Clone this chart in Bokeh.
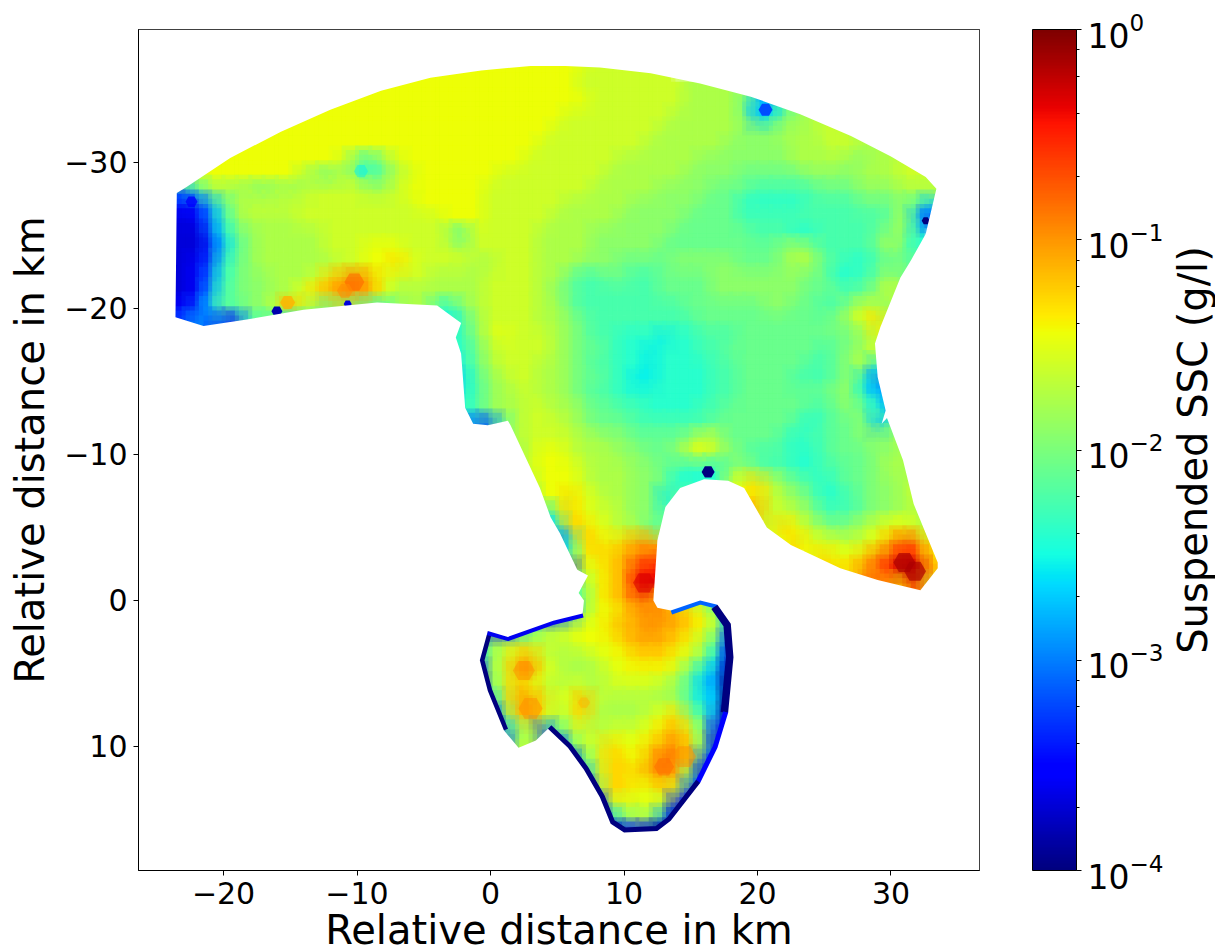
import numpy as np
from bokeh.plotting import figure
from bokeh.layouts import row
from bokeh.models import (ColorBar, ColumnDataSource, FixedTicker, LogColorMapper,
                          LogTicker, Range1d)
from bokeh.embed import file_html
from bokeh.resources import INLINE

X_TICKS = [-20, -10, 0, 10, 20, 30]
Y_TICKS = [-30, -20, -10, 0, 10]
XLABEL = "Relative distance in km"
CLABEL = "Suspended SSC (g/l)"

# Levels: A = 10^-4 ... Z = 10^0, 25 equal log steps.
LEVELS = "ABCDEFGHIJKLMNOPQRSTUVWXYZ"

# (first column km, first row = y value) cells, 1 km apart
ROW_Y = list(range(-37, 17))
ROW_X0 = [0, -6, -10, -13, -16, -18, -21, -22, -24, -24, -24, -24, -24, -24, -24, -24, -24, -24,
          -24, -4, -4, -3, -3, -3, -3, -3, 1, 2, 2, 3, 3, 4, 4, 5, 6, 6, 6, 6, 4, -1, -1, -1, -1, -1,
          0, 0, 0, 1, 6, 7, 7, 8, 8, 9]
ROW_CELLS = [
 "QQQQQQQQPP",
 "QQQQQQQQQQQQQPPPPPPP",
 "QQQQQQQQQQQQQQQQQPPPPPPPPOOOOO",
 "QQQQQQQQQQQQQQQQQQQQQPPPPPPPOOOOMIHLO",
 "QQQQQQQQQQQQQQQQQQQQQQPPPPPPPPOOOOONIJMNOO",
 "QQQQQQQQQQQQQQQQQQQQQQQPPPPPPPPOOOOOONNNOOOPPOO",
 "QQQQQQQQQQQQQQQQQQQQQQQQQPPPPPPPPOOOOOONNNNNOOOPPOOO",
 "QQQQQQQQQQQPMKNPQQQQQQQQQPPPPPPPOOOOOONNNNNNNOOOONNOOPP",
 "PPPQQQQQQQONMONLMOPQQQQQQPPPPPPPPOOOOOONNNNMMMMMNNNNOOOPPP",
 "HHKNONNMNNOPPPPOOPQQQQQQPPPPPPPPOOOOONNNNMMMLLLLLMMMNNNOOO",
 "EDEHLOPPPPPPPPPPPPPQQQQQPPPPPPOOOOONNNNNMMMKKKKKLLLLMMMNLI",
 "DCDGKNOOOOPPPPPPPPPPPQQQPPPPPOOOOONNNNNMMMMLLLLLLLLLLLMOIE",
 "CCCFJMNOOOOOPPPPPPPPPNLPPPPPOOOONNNNNNMMMMMMLLLKKLLLLMNNK",
 "CCCEILNOOOOOPPPQQQPPPPOPPPPPOOOONNNNNMMMMMMMMMNONLLLLMOMK",
 "CCDFKMNOOOOOOPPQQRQPPPPOOPPPOOONNNMMMMNNNNNMMMNOOMLKKLMMMK",
 "CCDGKMNNOOOPRSTSQPPPOOOOPPPPOOMLLMMLLMMMMNNNNNNNMMKKLMOM",
 "CCDHLMNNOOQRSTTSQOOOOOOOPPPPONMLLLLLLMMMMNNNNNNNMMMLMNPO",
 "DDFIMLNNPSPNMOMMKNOOLKNOPPPPOOMLLLLLLLLMMMMMMNNMMLLNPON",
 "FFHFFDKMKKK..........JLNPPPPOONMLLLLLLLLMMMMMMMMMMNOQRP",
 "LKLNPQPPPONMLLKKKJKKLLLMMMMMMMMMNPQO",
 "JKKMOPPPPONMMLKKJKKKLLMMMMMMMLMNOP",
 "IKMOPPPOONMLLKKJKKKKLLMMMMMLLMNOJ",
 "HJLNOPPOONMMLKJJKKKKLLMMMMLLLMNJG",
 "IKLNOOPOONMLLKKKKKKKLLMMMMMMMNNKI",
 "JKLNOOPPOONMMLLKKKKLLMMMMMMLLMNMKH",
 "IGGFLOPPPONMMMLLLLLLMMMMMMLKLMMNIM",
 "NOPPPPOONNMMMMNPOMMMMLKLLMMNNNO",
 "NPQQPOOONNMMNPQONMLLLKKLMMMNNO",
 "OPQQQPOOONNMLKKKMNMLLKKLLMMNOO",
 "OQQQPOOONNMKKKKPQRPNMLKLMMNNO",
 "MQQRQPOONNJM....QRPONMKKLMNNOP",
 "JORQPPONNL.....SSPPONLLLMNNOO",
 "IJRRQPOOMM.......PRQONMNOPQQPN",
 "FJRRQRSS.........QRQPPOPQSUTQ",
 "LQRRSTU...........QRQQRTUWVR",
 "CPQRSVW.............RRTUWYXS",
 "MNQRSWX................TSRVP",
 "LMQRSUTSRPNL",
 "DEHNQQRSTTSRQNJ",
 "CCDHKNOPQQRSSTSSRQOH",
 "LNOPPPPPQQQRSSSRQOLE",
 "INPRSPOOOPQQRRRQPNJC",
 "DNPSTQPOOOPQQQQPMJHB",
 "BMPRQPOPPOPPPPONLIHA",
 "IOSTRPQSPOOOOOOLJIA",
 "CLRSQOPROOOOPQRNLGA",
 "AHMOFLOPOPPPQRSQMD",
 "EOP.DLPPRQQRSTRMC",
 "BLPRRQSUTQF",
 "HORRRSTSMC",
 "CMRRQQRPF",
 "DOQPQOD",
 "BIMONHB",
 "ADECA",
]

# Small features: km position and level
SPOT_X = [16.3, -16.0, -10.7, -13.5, 32.6, 20.6, -15.2, -10.2, -10.9, 2.5, 3.0, 7.0, 14.5, 13.0, 11.5, 31.0, 31.8, -9.7, -22.4]
SPOT_Y = [-8.8, -19.8, -20.3, -19.6, -26.0, -33.6, -20.4, -21.8, -21.2, 4.8, 7.4, 7.0, 10.7, 11.4, -1.2, -2.6, -2.0, -29.4, -27.3]
SPOT_LEVEL = list("ABCDAFSUTTTSTUXYYJD")
SPOT_SIZE = [13, 11, 8, 9, 8, 14, 15, 20, 16, 22, 24, 12, 24, 20, 22, 22, 22, 14, 12]
SPOT_ALPHA = [1, 1, 1, 1, 1, 1, .8, .6, .6, .5, .5, .5, .5, .5, .6, .7, .7, .5, .8]

# Coast outline in km
COAST_X = [-23.5,-22.8,-19.5,-15.7,-12.0,-8.2,-4.5,-0.7,3.0,5.6,8.2,12.0,15.7,19.5,23.2,27.0,30.0,32.6,33.4,
           32.6,31.5,30.7,29.2,28.8,29.0,29.6,29.3,29.7,30.9,31.7,33.5,33.5,32.2,29.0,26.2,22.5,20.7,19.0,17.8,
           16.0,14.2,13.1,12.5,12.2,12.5,13.5,15.7,17.0,18.0,18.2,17.8,17.0,15.7,13.5,12.5,10.0,9.0,8.2,7.0,5.8,
           4.3,3.4,2.1,1.0,-0.2,-0.8,-0.2,1.3,4.7,6.9,7.0,6.6,7.3,6.5,5.2,4.5,3.7,1.5,1.3,-0.2,-1.3,-1.9,-2.2,
           -2.6,-2.2,-2.8,-4.0,-8.5,-14.0,-18.5,-21.5,-23.6]
COAST_Y = [-27.9,-28.3,-30.3,-32.1,-33.6,-34.9,-35.8,-36.3,-36.6,-36.6,-36.5,-36.1,-35.4,-34.5,-33.3,-31.8,-30.4,-29.0,-28.2,
           -25.1,-23.3,-22.1,-18.7,-17.6,-15.3,-13.0,-12.1,-12.5,-9.6,-6.6,-2.6,-2.2,-0.7,-1.4,-2.2,-3.8,-5.0,-7.7,-8.2,
           -8.3,-7.7,-6.4,-4.1,0.0,0.5,0.7,0.0,0.3,1.6,3.9,7.7,10.1,12.5,15.1,15.8,15.9,15.3,13.5,11.6,10.1,
           8.8,9.6,10.1,8.9,6.2,4.1,2.1,2.5,1.4,0.9,0.0,-0.5,-1.7,-2.1,-4.6,-5.7,-7.7,-12.0,-12.3,-12.0,-12.1,-13.2,-16.9,
           -18.0,-19.0,-19.4,-20.2,-20.4,-19.9,-19.2,-18.8,-19.4]

# Very low SSC rim along the shallow edge of the lower lobe
RIM_X = [[13.5,15.7,17.0], [17.0,18.0,18.2,17.8], [17.8,17.0,15.7], [15.7,13.5,12.5,10.0,9.0,8.2,7.0,5.8,4.3], [1.0,-0.2,-0.8,-0.2], [-0.2,1.3,4.7,6.9]]
RIM_Y = [[0.7,0.0,0.3], [0.3,1.6,3.9,7.7], [7.7,10.1,12.5], [12.5,15.1,15.8,15.9,15.3,13.5,11.6,10.1,8.8], [8.9,6.2,4.1,2.1], [2.1,2.5,1.4,0.9]]
RIM_SSC = [0.0008, 0.0001, 0.0003, 0.0001, 0.0001, 0.00025]
RIM_WIDTH = [8, 15, 10, 10, 9, 8]

X_RANGE = (-26.37, 36.63)
Y_RANGE = (18.5, -39.1)

def jet():
    t = np.linspace(0, 1, 256)
    r = np.interp(t, [0, .35, .66, .89, 1], [0, 0, 1, 1, .5])
    g = np.interp(t, [0, .125, .375, .64, .91, 1], [0, 0, 1, 1, 0, 0])
    b = np.interp(t, [0, .11, .34, .65, 1], [.5, 1, 1, 0, 0])
    return ["#%02x%02x%02x" % (int(a*255), int(c*255), int(d*255)) for a, c, d in zip(r, g, b)]

def level_ssc(ch):
    return 10 ** (-4 + 4 * LEVELS.index(ch) / 25)

mapper = LogColorMapper(palette=jet(), low=1e-4, high=1)

cx, cy, ssc = [], [], []
for y, x0, cells in zip(ROW_Y, ROW_X0, ROW_CELLS):
    for i, ch in enumerate(cells):
        if ch != ".":
            cx.append(x0 + i); cy.append(y)
            ssc.append(level_ssc(ch))
src = ColumnDataSource(dict(x=cx, y=cy, ssc=ssc))
spots = ColumnDataSource(dict(x=SPOT_X, y=SPOT_Y, size=SPOT_SIZE, alpha=SPOT_ALPHA,
                              ssc=[level_ssc(c) for c in SPOT_LEVEL]))

p = figure(width=1166, height=950, output_backend="svg", toolbar_location=None,
           x_range=Range1d(*X_RANGE), y_range=Range1d(*Y_RANGE),
           frame_width=841, frame_height=841,
           min_border_left=138, min_border_top=29, min_border_right=187, min_border_bottom=80)
p.grid.visible = False
p.background_fill_color = "white"
p.outline_line_color = "black"
p.outline_line_width = 1

color = {"field": "ssc", "transform": mapper}
p.rect("x", "y", 1.03, 1.03, source=src, fill_color=color, line_color=None)
p.rect("x", "y", 1.7, 1.7, source=src, fill_color=color, fill_alpha=0.35, line_color=None)
p.rect("x", "y", 2.3, 2.3, source=src, fill_color=color, fill_alpha=0.16, line_color=None)
p.scatter("x", "y", size="size", marker="hex", source=spots, fill_color=color, fill_alpha="alpha", line_color=None)
p.multi_line(RIM_X, RIM_Y, line_color=[mapper.palette[int(255*(np.log10(v)+4)/4)] for v in RIM_SSC],
             line_width=RIM_WIDTH, line_join="round")

# everything off the water stays white
fx = [X_RANGE[0], X_RANGE[1], X_RANGE[1], X_RANGE[0]]
fy = [Y_RANGE[1], Y_RANGE[1], Y_RANGE[0], Y_RANGE[0]]
p.multi_polygons(xs=[[[fx, COAST_X]]], ys=[[[fy, COAST_Y]]], fill_color="white", line_color=None)

for ax, ticks in ((p.xaxis[0], X_TICKS), (p.yaxis[0], Y_TICKS)):
    ax.ticker = FixedTicker(ticks=ticks)
    ax.major_label_overrides = {t: str(t).replace("-", "\u2212") for t in ticks}
    ax.major_label_text_font = "DejaVu Sans"
    ax.major_label_text_font_size = "30px"
    ax.major_label_text_color = "black"
    ax.axis_label = XLABEL
    ax.axis_label_text_font = "DejaVu Sans"
    ax.axis_label_text_font_size = "40px"
    ax.axis_label_text_font_style = "normal"
    ax.axis_label_text_color = "black"
    ax.major_tick_in = 0
    ax.major_tick_out = 5
    ax.minor_tick_line_color = None
    ax.axis_line_color = "black"
    ax.major_label_standoff = 6
p.xaxis[0].axis_label_standoff = 0
p.yaxis[0].axis_label_standoff = 8
p.yaxis[0].major_label_orientation = "horizontal"

cb = ColorBar(color_mapper=mapper, ticker=LogTicker(), width=44, height=841,
              location=(894, 0), padding=0, margin=0,
              major_label_text_font="DejaVu Sans", major_label_text_font_size="33px",
              major_label_text_color="black", label_standoff=6,
              major_tick_line_color="black", major_tick_in=0, major_tick_out=5,
              minor_tick_line_color="black", minor_tick_in=0, minor_tick_out=3,
              bar_line_color="black", background_fill_color=None)
p.add_layout(cb, "center")

# The colour bar's title sits in a narrow figure of its own, read bottom to top
q = figure(width=49, height=950, output_backend="svg", toolbar_location=None,
           x_range=Range1d(0, 1), y_range=Range1d(0, 1), x_axis_location=None,
           frame_width=1, frame_height=841,
           min_border_left=46, min_border_right=2, min_border_top=29, min_border_bottom=80)
q.grid.visible = False
q.outline_line_color = None
ay = q.yaxis[0]
ay.ticker = FixedTicker(ticks=[])
ay.axis_line_color = None
ay.major_tick_line_color = None
ay.minor_tick_line_color = None
ay.major_label_text_color = None
ay.major_label_text_font_size = "1px"
ay.major_label_standoff = 0
ay.major_tick_in = 0
ay.major_tick_out = 0
ay.axis_label = CLABEL
ay.axis_label_standoff = 8
ay.axis_label_text_font = "DejaVu Sans"
ay.axis_label_text_font_size = "40px"
ay.axis_label_text_font_style = "normal"
ay.axis_label_text_color = "black"

open("out.html", "w").write(file_html(row(p, q, spacing=0), INLINE))
